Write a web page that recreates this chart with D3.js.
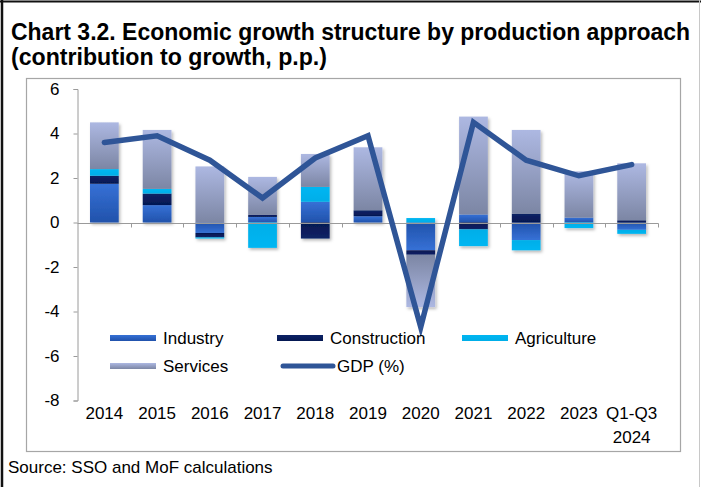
<!DOCTYPE html>
<html>
<head>
<meta charset="utf-8">
<script src="https://cdn.jsdelivr.net/npm/d3@7"></script>
<style>
  html, body { margin: 0; padding: 0; background: #fff; }
  svg { display: block; }
  text { font-family: "Liberation Sans", Arial, sans-serif; fill: #000; }
</style>
</head>
<body>
<svg id="chart" width="701" height="487"></svg>
<script>
// Contributions to real GDP growth, percentage points
const categories = ["2014", "2015", "2016", "2017", "2018", "2019", "2020", "2021", "2022", "2023", "Q1-Q3 2024"];
const industry     = [1.74, 0.78, -0.47, 0.25, 0.93, 0.28, -1.25, 0.36, -0.79, 0.22, -0.33];
const construction = [0.36, 0.52, -0.20, 0.09, -0.72, 0.27, -0.20, -0.31, 0.40, 0.00, 0.10];
const agriculture  = [0.30, 0.21, -0.05, -1.14, 0.67, 0.00, 0.20, -0.75, -0.46, -0.25, -0.18];
const services     = [2.10, 2.65, 2.52, 1.71, 1.48, 2.83, -2.35, 4.40, 3.76, 2.08, 2.56];
const gdp          = [3.6, 3.9, 2.8, 1.1, 2.9, 3.9, -4.7, 4.5, 2.8, 2.1, 2.6];
const yTicks = [6, 4, 2, 0, -2, -4, -6, -8];

const seriesKeys = ["Industry", "Construction", "Agriculture", "Services"];
const seriesData = { Industry: industry, Construction: construction, Agriculture: agriculture, Services: services };

const svg = d3.select("#chart");
const W = 701, H = 487;

svg.append("rect").attr("width", W).attr("height", H).attr("fill", "#fff");

// page frame
svg.append("line").attr("x1", 2).attr("x2", 2).attr("y1", 0).attr("y2", H).attr("stroke", "#111").attr("stroke-width", 2.5);
svg.append("line").attr("x1", 0).attr("x2", W).attr("y1", 1.5).attr("y2", 1.5).attr("stroke", "#111").attr("stroke-width", 2);
svg.append("line").attr("x1", 699.5).attr("x2", 699.5).attr("y1", 0).attr("y2", H).attr("stroke", "#c8c8c8").attr("stroke-width", 1);

// title
const titleFont = "'Liberation Sans Narrow', 'Arial Narrow', 'Liberation Sans', sans-serif";
svg.append("text").attr("x", 11).attr("y", 40)
  .attr("font-family", titleFont).attr("font-size", 23).attr("font-weight", "bold")
  .attr("textLength", 679).attr("lengthAdjust", "spacingAndGlyphs")
  .text("Chart 3.2. Economic growth structure by production approach");
svg.append("text").attr("x", 11).attr("y", 65)
  .attr("font-family", titleFont).attr("font-size", 23).attr("font-weight", "bold")
  .attr("textLength", 316).attr("lengthAdjust", "spacingAndGlyphs")
  .text("(contribution to growth, p.p.)");

// plot area frame
svg.append("rect").attr("x", 26.5).attr("y", 78.5).attr("width", 654).attr("height", 373)
  .attr("fill", "none").attr("stroke", "#a6a6a6").attr("stroke-width", 1.2);

// source note
svg.append("text").attr("x", 8).attr("y", 473).attr("font-size", 17)
  .text("Source: SSO and MoF calculations");

// scales
const x = d3.scaleBand().domain(categories).range([78, 658]).paddingInner(0.455).paddingOuter(0.2275);
const y = d3.scaleLinear().domain([-8, 6]).range([400.5, 89]);

// gradients
const defs = svg.append("defs");
const grads = {
  Industry: ["#3671d6", "#2152ab"],
  Construction: ["#0c2266", "#051852"],
  Agriculture: ["#00b6f2", "#00aee8"],
  Services: ["#adb8e2", "#7c86a4"]
};
Object.entries(grads).forEach(([k, [c1, c2]]) => {
  ["pos", "neg"].forEach(sign => {
    const g = defs.append("linearGradient").attr("id", `g-${k}-${sign}`)
      .attr("x1", 0).attr("x2", 0).attr("y1", 0).attr("y2", 1);
    g.append("stop").attr("offset", "0%").attr("stop-color", sign === "pos" ? c1 : c2);
    g.append("stop").attr("offset", "100%").attr("stop-color", sign === "pos" ? c2 : c1);
  });
});
const shadow = defs.append("filter").attr("id", "shadow").attr("x", "-20%").attr("y", "-20%").attr("width", "150%").attr("height", "150%");
shadow.append("feDropShadow").attr("dx", 1.5).attr("dy", 2).attr("stdDeviation", 1.5)
  .attr("flood-color", "#000").attr("flood-opacity", 0.28);

// stacked bars (positive and negative parts stacked separately from zero)
const rows = categories.map((c, i) => {
  const r = { category: c };
  seriesKeys.forEach(k => r[k] = seriesData[k][i]);
  return r;
});
const stacked = d3.stack().keys(seriesKeys).offset(d3.stackOffsetDiverging)(rows);

const barsG = svg.append("g").attr("filter", "url(#shadow)");
stacked.forEach(layer => {
  barsG.append("g").selectAll("rect")
    .data(layer.filter(d => d[1] - d[0] !== 0))
    .join("rect")
    .attr("x", d => x(d.data.category))
    .attr("width", x.bandwidth())
    .attr("y", d => y(Math.max(d[0], d[1])))
    .attr("height", d => Math.abs(y(d[0]) - y(d[1])))
    .attr("fill", d => `url(#g-${layer.key}-${d.data[layer.key] >= 0 ? "pos" : "neg"})`);
});

// y axis
const axisColor = "#9a9a9a";
const yAxis = svg.append("g").attr("transform", "translate(77.5,0)")
  .call(d3.axisLeft(y).tickValues(yTicks).tickSize(4).tickPadding(14).tickFormat(d => String(d)));
yAxis.select(".domain").attr("stroke", axisColor);
yAxis.selectAll(".tick line").attr("stroke", axisColor);
yAxis.selectAll(".tick text").attr("font-size", 17).attr("font-family", "'Liberation Sans', Arial, sans-serif").attr("fill", "#000");

// zero line with category separators
const zeroY = Math.round(y(0)) + 0.5;
svg.append("line").attr("x1", 77.5).attr("x2", 658.5).attr("y1", zeroY).attr("y2", zeroY)
  .attr("stroke", axisColor).attr("stroke-width", 1.2);
const step = x.step();
svg.append("g").selectAll("line").data(categories).join("line")
  .attr("x1", c => Math.round(x(c) + x.bandwidth() / 2 + step / 2) + 0.5)
  .attr("x2", c => Math.round(x(c) + x.bandwidth() / 2 + step / 2) + 0.5)
  .attr("y1", zeroY).attr("y2", zeroY + 4)
  .attr("stroke", axisColor);

// category labels
const xl = svg.append("g").attr("font-size", 17).attr("text-anchor", "middle");
categories.forEach(c => {
  const cx = x(c) + x.bandwidth() / 2;
  c.split(" ").forEach((p, j) => {
    xl.append("text").attr("x", cx).attr("y", 419 + j * 24).text(p);
  });
});

// GDP line
const line = d3.line().x((d, i) => x(categories[i]) + x.bandwidth() / 2).y(d => y(d));
svg.append("path").datum(gdp).attr("d", line)
  .attr("fill", "none").attr("stroke", "#2f5597").attr("stroke-width", 5.5)
  .attr("stroke-linejoin", "miter").attr("stroke-linecap", "round");

// legend
const legend = svg.append("g").attr("font-size", 17);
const legendItems = [
  { key: "Industry", x: 110, row: 0, type: "bar" },
  { key: "Construction", x: 277, row: 0, type: "bar" },
  { key: "Agriculture", x: 462, row: 0, type: "bar" },
  { key: "Services", x: 110, row: 1, type: "bar" },
  { key: "GDP (%)", x: 283, row: 1, type: "line" }
];
legendItems.forEach(it => {
  const cy = 338 + it.row * 28;
  if (it.type === "bar") {
    legend.append("rect").attr("x", it.x).attr("y", cy - 3).attr("width", 46).attr("height", 6)
      .attr("fill", `url(#g-${it.key}-pos)`);
    legend.append("text").attr("x", it.x + 53).attr("y", cy + 6).text(it.key);
  } else {
    legend.append("line").attr("x1", it.x).attr("x2", it.x + 50).attr("y1", cy).attr("y2", cy)
      .attr("stroke", "#2f5597").attr("stroke-width", 5).attr("stroke-linecap", "round");
    legend.append("text").attr("x", it.x + 54).attr("y", cy + 6).text(it.key);
  }
});
</script>
</body>
</html>
